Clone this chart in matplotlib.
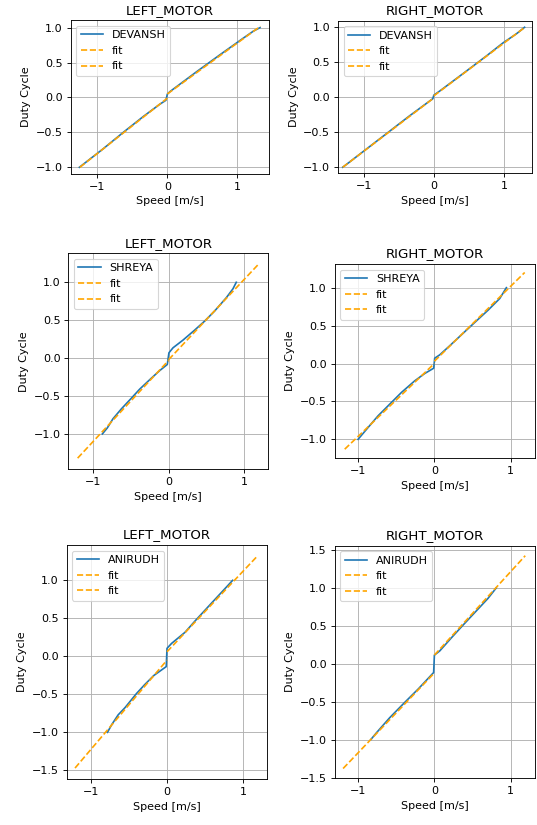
import matplotlib
matplotlib.use("Agg")
import matplotlib.pyplot as plt
from matplotlib.ticker import MultipleLocator


# speed [m/s] vs duty cycle
devansh_left_speed = [-1.257, -0.914, -0.63, -0.34, -0.105, -0.02, 0.0, 0.04, 0.42, 0.75, 1.086, 1.23, 1.324]
devansh_left_duty = [-1.0, -0.733, -0.50, -0.27, -0.095, -0.04, 0.048, 0.086, 0.37, 0.61, 0.85, 0.95, 1.0]
devansh_right_speed = [-1.3, -1.18, -1.01, -0.68, -0.35, -0.014, 0.0, 0.08, 0.41, 0.75, 0.986, 1.176, 1.295]
devansh_right_duty = [-1.0, -0.908, -0.777, -0.523, -0.268, -0.02, 0.03, 0.086, 0.333, 0.59, 0.776, 0.905, 1.0]

shreya_left_speed = [-0.88, -0.814, -0.739, -0.628, -0.496, -0.385, -0.23, -0.119, -0.018, 0.004,
                     0.058, 0.19, 0.345, 0.478, 0.61, 0.765, 0.854, 0.898]
shreya_left_duty = [-1.0, -0.92, -0.80, -0.67, -0.53, -0.41, -0.265, -0.165, -0.084, 0.07,
                    0.136, 0.237, 0.369, 0.488, 0.62, 0.796, 0.914, 1.0]
shreya_right_speed = [-1.0, -0.869, -0.738, -0.585, -0.432, -0.258, -0.127, -0.009, 0.004, 0.07,
                      0.2, 0.354, 0.528, 0.703, 0.856, 0.943]
shreya_right_duty = [-1.0, -0.844, -0.69, -0.536, -0.382, -0.229, -0.132, -0.062, 0.07, 0.114,
                     0.233, 0.378, 0.541, 0.703, 0.857, 1.0]

anirudh_left_speed = [-0.78, -0.725, -0.64, -0.55, -0.4, -0.29, -0.17, -0.01, 0.0, 0.06, 0.236, 0.367, 0.56, 0.74, 0.86]
anirudh_left_duty = [-1.0, -0.9, -0.77, -0.675, -0.49, -0.37, -0.25, -0.135, 0.105, 0.17, 0.316, 0.465, 0.675, 0.87, 1.0]
anirudh_right_speed = [-0.834, -0.76, -0.585, -0.39, -0.21, -0.01, 0.0, 0.07, 0.22, 0.375, 0.57, 0.7, 0.81]
anirudh_right_duty = [-1.0, -0.91, -0.71, -0.51, -0.33, -0.115, 0.115, 0.17, 0.34, 0.51, 0.72, 0.86, 1.0]

# fitted lines (negative side, positive side): end points
devansh_left_fit = [([-1.25, 0.0], [-1.0, -0.01]), ([0.0, 1.33], [0.05, 1.02])]
devansh_right_fit = [([-1.3, 0.0], [-1.0, -0.01]), ([0.0, 1.3], [0.02, 1.0])]
shreya_left_fit = [([-1.208, 0.0], [-1.319, -0.03]), ([0.0, 1.19], [-0.02, 1.235])]
shreya_right_fit = [([-1.175, 0.0], [-1.13, 0.0]), ([0.0, 1.183], [0.03, 1.2])]
anirudh_left_fit = [([-1.205, 0.0], [-1.47, -0.05]), ([0.0, 1.175], [0.06, 1.31])]
anirudh_right_fit = [([-1.196, 0.0], [-1.38, -0.12]), ([0.0, 1.19], [0.115, 1.425])]

W, H = 537, 825
fig = plt.figure(figsize=(W / 80, H / 80), dpi=80)


def make_axes(left, right, top, bottom):
    # pixel box -> figure fraction
    return fig.add_axes([left / W, 1 - bottom / H, (right - left) / W, (bottom - top) / H])


panels = [
    # name, title, speed, duty, fits, box(px), xlim, ylim
    ("DEVANSH", "LEFT_MOTOR", devansh_left_speed, devansh_left_duty, devansh_left_fit,
     (70.7, 269.3, 20.3, 174.0), (-1.381, 1.457), (-1.096, 1.105)),
    ("DEVANSH", "RIGHT_MOTOR", devansh_right_speed, devansh_right_duty, devansh_right_fit,
     (338.0, 532.3, 20.7, 173.3), (-1.367, 1.405), (-1.086, 1.094)),
    ("SHREYA", "LEFT_MOTOR", shreya_left_speed, shreya_left_duty, shreya_left_fit,
     (68.3, 268.3, 253.3, 469.3), (-1.332, 1.323), (-1.466, 1.382)),
    ("SHREYA", "RIGHT_MOTOR", shreya_right_speed, shreya_right_duty, shreya_right_fit,
     (334.7, 534.7, 264.0, 458.3), (-1.306, 1.314), (-1.25, 1.312)),
    ("ANIRUDH", "LEFT_MOTOR", anirudh_left_speed, anirudh_left_duty, anirudh_left_fit,
     (66.7, 266.7, 545.0, 779.3), (-1.314, 1.306), (-1.618, 1.465)),
    ("ANIRUDH", "RIGHT_MOTOR", anirudh_right_speed, anirudh_right_duty, anirudh_right_fit,
     (334.7, 534.7, 545.7, 778.3), (-1.306, 1.314), (-1.509, 1.557)),
]

for name, title, speed, duty, fits, box, xlim, ylim in panels:
    ax = make_axes(*box)
    ax.plot(speed, duty, color="#1f77b4", label=name)
    for fx, fy in fits:
        ax.plot(fx, fy, "--", color="orange", label="fit")
    ax.set_xlim(*xlim)
    ax.set_ylim(*ylim)
    ax.xaxis.set_major_locator(MultipleLocator(1))
    ax.yaxis.set_major_locator(MultipleLocator(0.5))
    ax.set_title(title)
    ax.set_xlabel("Speed [m/s]")
    ax.set_ylabel("Duty Cycle")
    ax.grid(True)
    ax.legend(loc="upper left")

fig.savefig("out.png", dpi=80)
